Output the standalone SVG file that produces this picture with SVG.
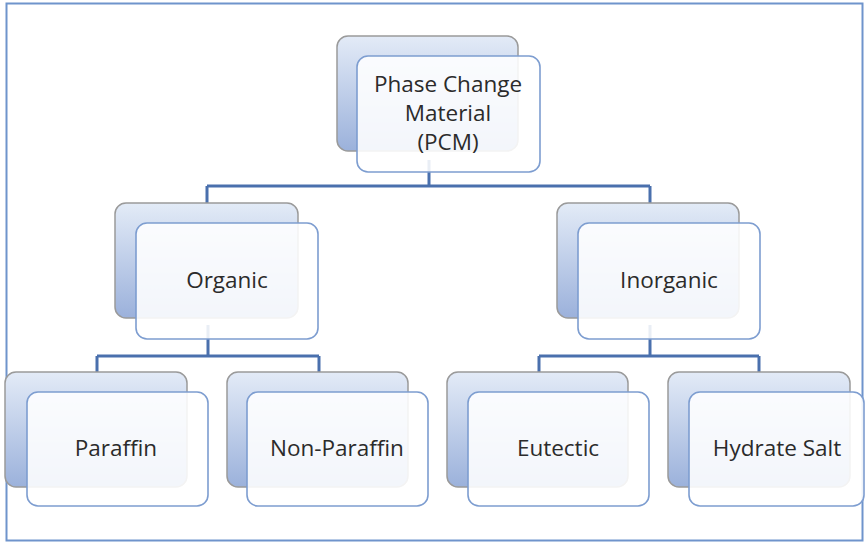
<svg xmlns="http://www.w3.org/2000/svg" width="865" height="543" viewBox="0 0 865 543">
  <defs>
    <linearGradient id="backFill" x1="0" y1="0" x2="0" y2="1">
      <stop offset="0" stop-color="#e3ebf7"/>
      <stop offset="1" stop-color="#9bb1db"/>
    </linearGradient>
    <style>
      .back { fill: url(#backFill); stroke: #9a9a9a; stroke-width: 1.5; }
      .front { fill: #ffffff; fill-opacity: 0.88; stroke: #7d9dd0; stroke-width: 1.6; }
      .label { font-family: "Open Sans", "Noto Sans", sans-serif; font-size: 22.5px; fill: #2b2b2b; text-anchor: middle; }
      .link { fill: none; stroke: #4a70ad; stroke-width: 3; }
    </style>
  </defs>

  <rect x="0" y="0" width="865" height="543" fill="#ffffff"/>
  <!-- outer frame -->
  <rect x="6.5" y="3.5" width="856" height="537" fill="none" stroke="#6f94cc" stroke-width="2"/>

  <!-- connectors -->
  <g id="connectors">
    <path class="link" d="M429 160 V186 M207 186 H650 M207 186 V208 M650 186 V208"/>
    <path class="link" d="M208 325 V356 M97 356 H319 M97 356 V377 M319 356 V377"/>
    <path class="link" d="M650 325 V356 M539 356 H759 M539 356 V377 M759 356 V377"/>
  </g>

  <g id="pcm">
    <rect class="back" x="337" y="36" width="181" height="115" rx="11"/>
    <rect class="front" x="357" y="56" width="183" height="116" rx="11"/>
    <text class="label" x="448" y="92">Phase Change</text>
    <text class="label" x="448" y="121">Material</text>
    <text class="label" x="448" y="150">(PCM)</text>
  </g>

  <g id="organic">
    <rect class="back" x="115" y="203" width="183" height="115" rx="11"/>
    <rect class="front" x="136" y="223" width="182" height="116" rx="11"/>
    <text class="label" x="227" y="288">Organic</text>
  </g>

  <g id="inorganic">
    <rect class="back" x="557" y="203" width="182" height="115" rx="11"/>
    <rect class="front" x="578" y="223" width="182" height="116" rx="11"/>
    <text class="label" x="669" y="288">Inorganic</text>
  </g>

  <g id="paraffin">
    <rect class="back" x="5" y="372" width="182" height="115" rx="11"/>
    <rect class="front" x="27" y="392" width="181" height="114" rx="11"/>
    <text class="label" x="116" y="456">Paraffin</text>
  </g>

  <g id="non-paraffin">
    <rect class="back" x="227" y="372" width="181" height="115" rx="11"/>
    <rect class="front" x="247" y="392" width="181" height="114" rx="11"/>
    <text class="label" x="337" y="456">Non-Paraffin</text>
  </g>

  <g id="eutectic">
    <rect class="back" x="447" y="372" width="181" height="115" rx="11"/>
    <rect class="front" x="468" y="392" width="181" height="114" rx="11"/>
    <text class="label" x="558" y="456">Eutectic</text>
  </g>

  <g id="hydrate-salt">
    <rect class="back" x="668" y="372" width="182" height="115" rx="11"/>
    <rect class="front" x="689" y="392" width="175" height="114" rx="11"/>
    <text class="label" x="777" y="456">Hydrate Salt</text>
  </g>
</svg>
